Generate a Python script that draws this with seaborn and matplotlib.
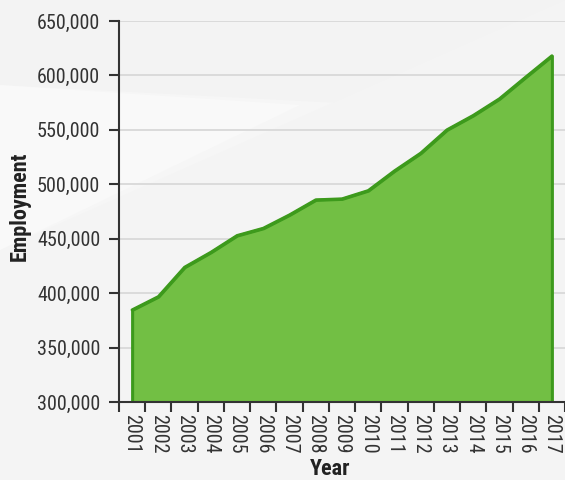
import matplotlib
matplotlib.use("Agg")
import matplotlib.pyplot as plt
from matplotlib import font_manager as fm
from matplotlib.patches import Polygon
import seaborn as sns
import pandas as pd
import numpy as np

years = [str(y) for y in range(2001, 2018)]
employment = [384600, 396800, 423800, 437500, 452900, 459600, 471900, 485700,
              486600, 494200, 512300, 528600, 550000, 563200, 578500, 598400, 618000]
y_ticks = [300000, 350000, 400000, 450000, 500000, 550000, 600000, 650000]

df = pd.DataFrame({"Year": years, "Employment": employment})
df["pos"] = np.arange(len(years))

sns.set_theme(style="white")
available = {f.name for f in fm.fontManager.ttflist}
candidates = ["Roboto Condensed", "Liberation Sans Narrow", "Archivo Narrow", "PT Sans Narrow",
              "Barlow Condensed", "Open Sans Condensed", "Fira Sans Condensed",
              "IBM Plex Sans Condensed", "Encode Sans Condensed", "DejaVu Sans Condensed"]
chosen = [c for c in candidates if c in available]
plt.rcParams['font.family'] = chosen[:1] + ['DejaVu Sans']

W, H = 565, 480
fig = plt.figure(figsize=(W / 100, H / 100), dpi=100)
fig.patch.set_facecolor("#f3f3f3")

bg = fig.add_axes([0, 0, 1, 1], zorder=-10)
bg.set_xlim(0, W)
bg.set_ylim(H, 0)
bg.axis("off")
bg.add_patch(Polygon([[0, 85], [565, 115], [565, 480], [0, 480]], closed=True,
                     facecolor="#f6f6f6", edgecolor="none"))
bg.add_patch(Polygon([[0, 250], [565, 0], [565, 480], [0, 480]], closed=True,
                     facecolor="#f4f4f4", edgecolor="none"))
bg.add_patch(Polygon([[0, 85], [300, 105], [0, 250]], closed=True,
                     facecolor="#f9f9f9", edgecolor="none"))

ax = fig.add_axes([119 / W, 1 - 402 / H, (565 - 119) / W, (402 - 21) / H])
ax.set_facecolor("none")

fill_c = "#72bf44"
line_c = "#3d9a1c"
ax.fill_between(df["pos"], 300000, df["Employment"], facecolor=fill_c,
                edgecolor=line_c, linewidth=2.2, zorder=3)
sns.lineplot(data=df, x="pos", y="Employment", ax=ax, color=line_c, linewidth=2.2, zorder=4)

ax.set_xlim(-0.5, len(years) - 0.5)
ax.set_ylim(300000, 650000)
ax.set_yticks(y_ticks)
ax.set_yticklabels([f"{v:,}" for v in y_ticks])
ax.yaxis.grid(True, color="#d6d6d6", linewidth=1.2, zorder=0)
ax.set_axisbelow(True)

ax.set_xticks(np.arange(len(years) + 1) - 0.5)
ax.set_xticklabels([])
ax.set_xticks(np.arange(len(years)), minor=True)
ax.set_xticklabels(years, minor=True, rotation=-90, va="top", ha="center")

for s in ["top", "right"]:
    ax.spines[s].set_visible(False)
for s in ["left", "bottom"]:
    ax.spines[s].set_color("#333333")
    ax.spines[s].set_linewidth(1.5)
    ax.spines[s].set_zorder(5)

ax.tick_params(axis="y", which="major", length=7.5, width=1.5, color="#333333",
               labelsize=14.5, labelcolor="#333333", pad=6, left=True)
ax.tick_params(axis="x", which="major", length=7, width=1.5, color="#333333", bottom=True)
ax.tick_params(axis="x", which="minor", length=0, labelsize=14.5, labelcolor="#333333", pad=9)

ax.set_xlabel("Year", fontsize=16, fontweight="bold", color="#222222")
ax.set_ylabel("Employment", fontsize=16, fontweight="bold", color="#222222")
ax.xaxis.set_label_coords((330 - 119) / (565 - 119), -(458 - 402) / (402 - 21))
ax.yaxis.set_label_coords(-(119 - 31) / (565 - 119), (402 - 206) / (402 - 21))

fig.savefig("out.png", dpi=100, facecolor=fig.get_facecolor())
